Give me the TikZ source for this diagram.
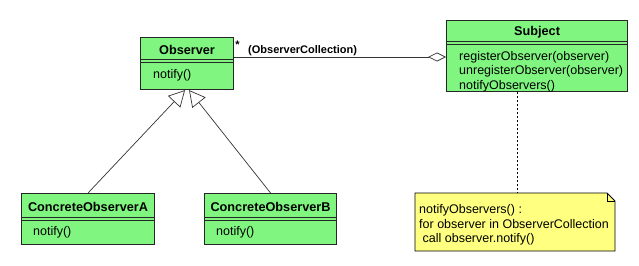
\documentclass[tikz,border=0pt]{standalone}
\usepackage{fontspec}
\setmainfont{Liberation Sans}
\usetikzlibrary{arrows.meta,shapes.misc}
\definecolor{umlgreen}{RGB}{128,246,128}
\definecolor{notey}{RGB}{255,255,128}
\tikzset{
  umlbox/.style={draw=black!85, line width=1.1pt, fill=umlgreen, inner sep=0pt, anchor=north west},
  umltitle/.style={font=\bfseries\fontsize{12.7}{14}\selectfont, inner sep=0pt},
  umlmeth/.style={font=\fontsize{12.5}{14.5}\selectfont, inner sep=0pt, anchor=west},
  divider/.style={draw=black!85, line width=0.9pt},
  conn/.style={draw=black!80, line width=0.7pt},
  inherit/.style={conn, -{Triangle[open, length=16pt, width=17pt, line width=0.7pt]}},
  aggreg/.style={conn, -{Diamond[open, length=18pt, width=9pt, line width=0.7pt]}},
  notelink/.style={draw=black, line width=0.8pt, dash pattern=on 2pt off 2pt}
}
\begin{document}
\begin{tikzpicture}[x=1pt,y=-1pt]
\useasboundingbox (0,0) rectangle (639,265);
% Observer
\node[umlbox, minimum width=93pt, minimum height=52pt] (obs) at (140,37) {};
\node[umltitle] (obsT) at ([yshift=-13pt]obs.north) {Observer};
\draw[divider] ([yshift=-22pt]obs.north west) -- ([yshift=-22pt]obs.north east);
\draw[divider] ([yshift=-25pt]obs.north west) -- ([yshift=-25pt]obs.north east);
\node[umlmeth] (obsM) at ([xshift=13pt,yshift=-38pt]obs.north west) {notify()};
% Subject
\node[umlbox, minimum width=181pt, minimum height=71pt] (subj) at (446,20) {};
\node[umltitle] (subjT) at ([yshift=-12pt]subj.north) {Subject};
\draw[divider] ([yshift=-21.5pt]subj.north west) -- ([yshift=-21.5pt]subj.north east);
\draw[divider] ([yshift=-24.5pt]subj.north west) -- ([yshift=-24.5pt]subj.north east);
\node[umlmeth] (subjM1) at ([xshift=13pt,yshift=-37pt]subj.north west) {registerObserver(observer)};
\node[umlmeth] (subjM2) at ([xshift=13pt,yshift=-51.5pt]subj.north west) {unregisterObserver(observer)};
\node[umlmeth] (subjM3) at ([xshift=13pt,yshift=-66pt]subj.north west) {notifyObservers()};
% Concrete A
\node[umlbox, minimum width=133pt, minimum height=51pt] (ca) at (21,193) {};
\node[umltitle] (caT) at ([yshift=-14pt]ca.north) {ConcreteObserverA};
\draw[divider] ([yshift=-24pt]ca.north west) -- ([yshift=-24pt]ca.north east);
\draw[divider] ([yshift=-27pt]ca.north west) -- ([yshift=-27pt]ca.north east);
\node[umlmeth] (caM) at ([xshift=12pt,yshift=-39pt]ca.north west) {notify()};
% Concrete B
\node[umlbox, minimum width=132pt, minimum height=51pt] (cb) at (204,193) {};
\node[umltitle] (cbT) at ([yshift=-14pt]cb.north) {ConcreteObserverB};
\draw[divider] ([yshift=-24pt]cb.north west) -- ([yshift=-24pt]cb.north east);
\draw[divider] ([yshift=-27pt]cb.north west) -- ([yshift=-27pt]cb.north east);
\node[umlmeth] (cbM) at ([xshift=12pt,yshift=-39pt]cb.north west) {notify()};
% Note
\coordinate (nNW) at (415,193);
\coordinate (nSE) at (615,251);
\filldraw[fill=notey, draw=black, line width=0.9pt]
  (nNW) -- (607,193) -- (615,201) -- (nSE) -- (415,251) -- cycle;
\draw[black, line width=0.6pt] (607,193) -- (607,201) -- (615,201);
\node[umlmeth] (n1) at (419,210) {notifyObservers() :};
\node[umlmeth] (n2) at (419,224.5) {for observer in ObserverCollection};
\node[umlmeth] (n3) at (419,239) {\ call observer.notify()};
\coordinate (nTop) at (517,193);
% Connectors
\draw[inherit] (ca.north) -- ([xshift=-2pt]obs.south);
\draw[inherit] (cb.north) -- ([xshift=2pt]obs.south);
\draw[aggreg] ([yshift=-20pt]obs.north east) -- ([yshift=-37pt]subj.north west);
\draw[notelink] (subj.south -| nTop) -- (nTop);
\node[font=\bfseries\fontsize{11}{12}\selectfont, inner sep=0pt] (mult) at (237.5,45) {*};
\node[font=\bfseries\fontsize{11}{12}\selectfont, inner sep=0pt, anchor=west] (role) at (248,51) {(ObserverCollection)};
\end{tikzpicture}
\end{document}
